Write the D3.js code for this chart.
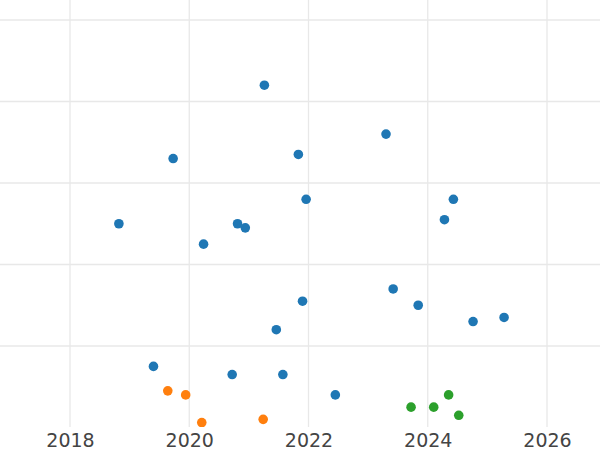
<!DOCTYPE html>
<html>
<head>
<meta charset="utf-8">
<script src="https://cdn.jsdelivr.net/npm/d3@7"></script>
<style>
  html, body { margin: 0; padding: 0; background: #fff; }
  svg { display: block; }
</style>
</head>
<body>
<svg id="chart" width="600" height="450"></svg>
<script>
// ---- data ----
const xTicks = [2018, 2020, 2022, 2024, 2026];
const yTicks = [10, 20, 30, 40, 50];

const seriesNames = ["A", "B", "C"];
const seriesColors = ["#1f77b4", "#ff7f0e", "#2ca02c"];

const blueYears = [2021.26, 2019.73, 2023.30, 2021.83, 2021.96, 2024.43, 2024.28, 2018.82, 2020.81, 2020.94, 2020.24,
                   2021.90, 2023.42, 2023.84, 2024.76, 2025.28, 2021.46, 2019.40, 2020.72, 2021.57, 2022.45];
const blueValues = [42.0, 33.0, 36.0, 33.5, 28.0, 28.0, 25.5, 25.0, 25.0, 24.5, 22.5,
                    15.5, 17.0, 15.0, 13.0, 13.5, 12.0, 7.5, 6.5, 6.5, 4.0];

const orangeYears = [2019.64, 2019.94, 2020.21, 2021.24];
const orangeValues = [4.5, 4.0, 0.6, 1.0];

const greenYears = [2023.72, 2024.10, 2024.35, 2024.52];
const greenValues = [2.5, 2.5, 4.0, 1.5];

// ---- layout ----
const W = 600, H = 450;
const plotBottom = 427;
const svg = d3.select("#chart");

const x = d3.scaleLinear()
  .domain([2018, 2026])
  .range([70, 547]);
const y = d3.scaleLinear()
  .domain([0, 50])
  .range([427.5, 20]);

const points = [];
[[blueYears, blueValues], [orangeYears, orangeValues], [greenYears, greenValues]].forEach(([xs, vs], s) => {
  xs.forEach((yr, i) => points.push({ s, x: yr, v: vs[i] }));
});

svg.append("defs").append("clipPath").attr("id", "clip")
  .append("rect").attr("x", 0).attr("y", 0).attr("width", W).attr("height", plotBottom);

const grid = svg.append("g").attr("clip-path", "url(#clip)");
grid.selectAll("line.h").data(yTicks).join("line")
  .attr("class", "h")
  .attr("x1", 0).attr("x2", W)
  .attr("y1", d => y(d)).attr("y2", d => y(d))
  .attr("stroke", "#e8e8e8").attr("stroke-width", 1.3);
grid.selectAll("line.v").data(xTicks).join("line")
  .attr("class", "v")
  .attr("x1", d => x(d)).attr("x2", d => x(d))
  .attr("y1", 0).attr("y2", plotBottom)
  .attr("stroke", "#e8e8e8").attr("stroke-width", 1.3);

// x axis labels via d3 axis
const xAxis = svg.append("g")
  .attr("transform", `translate(0,${plotBottom})`)
  .call(d3.axisBottom(x).tickValues(xTicks).tickFormat(d3.format("d")).tickSize(0).tickPadding(7));
xAxis.select(".domain").remove();
xAxis.selectAll("text")
  .attr("font-family", "DejaVu Sans, sans-serif")
  .attr("font-size", 19)
  .attr("fill", "#444");

svg.append("g").attr("clip-path", "url(#clip)")
  .selectAll("circle").data(points).join("circle")
  .attr("cx", d => x(d.x))
  .attr("cy", d => y(d.v))
  .attr("r", 4.8)
  .attr("fill", d => seriesColors[d.s]);
</script>
</body>
</html>
